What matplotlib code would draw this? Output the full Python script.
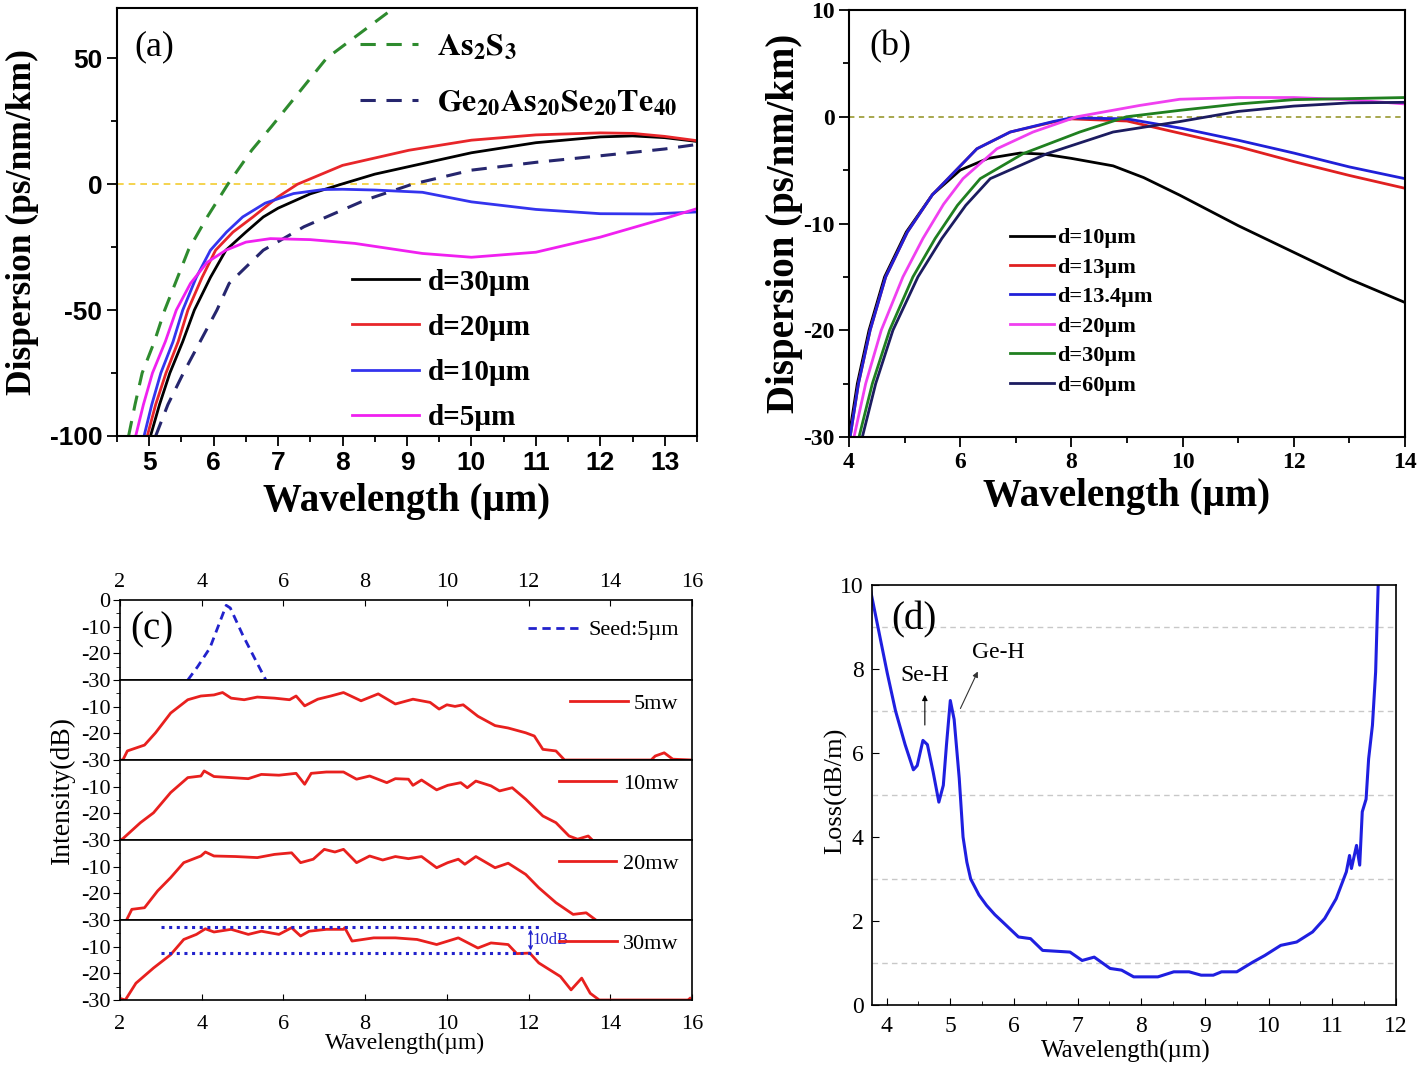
import numpy as np
import matplotlib
matplotlib.use("Agg")
import matplotlib.pyplot as plt
from matplotlib.ticker import MultipleLocator

plt.rcParams['mathtext.fontset'] = 'stix'
plt.rcParams['axes.unicode_minus'] = False
SERIF = ['Liberation Serif', 'DejaVu Serif']
SANS = ['Liberation Sans', 'DejaVu Sans']

# ---------------- Panel (a) data ----------------
a_as2s3_x = [4.68, 4.78, 4.89, 5.08, 5.24, 5.61, 5.90, 6.22, 6.59, 6.90, 7.75, 8.77]
a_as2s3_y = [-100, -87.5, -75, -62.5, -50, -26, -13, 0, 13.5, 23, 50, 69.5]
a_gast_x = [5.10, 5.29, 5.53, 5.79, 6.05, 6.24, 6.77, 7.40, 8.35, 9.08, 10.0, 11.0, 12.0, 13.0, 13.5]
a_gast_y = [-100, -87.5, -75, -62.5, -50, -39.4, -26.2, -16.9, -6.3, 0, 5.6, 8.7, 11.3, 14.0, 15.8]
a_d30_x = [5.02, 5.16, 5.32, 5.52, 5.70, 5.95, 6.19, 6.50, 6.77, 7.0, 7.5, 7.98, 8.5, 9.24, 10.0,
           11.0, 12.0, 12.5, 13.0, 13.5]
a_d30_y = [-100, -87.5, -75, -62.5, -50, -37, -26.2, -19, -13, -9.5, -3.8, 0, 4, 8.2, 12.5,
           16.5, 18.8, 19.2, 18.5, 17]
a_d20_x = [4.97, 5.10, 5.26, 5.45, 5.60, 5.82, 6.03, 6.30, 6.61, 7.0, 7.30, 8.0, 9.03, 10.0,
           11.0, 12.0, 12.5, 13.0, 13.5]
a_d20_y = [-100, -87.5, -75, -62.5, -50, -37, -26.2, -19, -13, -5, 0, 7.5, 13.5, 17.5,
           19.6, 20.4, 20.2, 19.0, 17.3]
a_d10_x = [4.92, 5.04, 5.18, 5.37, 5.52, 5.73, 5.95, 6.20, 6.45, 6.80, 7.24, 7.70, 8.0, 8.5,
           9.24, 10.0, 11.0, 12.0, 12.8, 13.5]
a_d10_y = [-100, -87.5, -75, -62.5, -50, -37, -26.2, -19, -13, -7.5, -3.7, -2.1, -2.0, -2.3,
           -3.2, -7, -10, -11.7, -11.8, -11]
a_d5_x = [4.79, 4.91, 5.05, 5.25, 5.42, 5.64, 5.90, 6.19, 6.50, 6.88, 7.5, 8.19, 9.24, 10.0,
          11.0, 12.0, 13.0, 13.5]
a_d5_y = [-100, -87.5, -75, -62.5, -50, -39.4, -31, -26.2, -23, -21.6, -22, -23.5, -27.5, -29,
          -27, -21, -13.6, -9.7]

# ---------------- Panel (b) data ----------------
b_d10_x = [4.0, 4.15, 4.36, 4.64, 5.03, 5.5, 6.0, 6.5, 7.08, 7.5, 8.0, 8.75, 9.3, 9.95, 11, 12, 13, 14]
b_d10_y = [-30, -25, -20, -15, -10.8, -7.3, -5.0, -3.9, -3.4, -3.5, -3.9, -4.6, -5.7, -7.35,
           -10.2, -12.7, -15.2, -17.4]
b_d13_x = [4.02, 4.17, 4.38, 4.66, 5.05, 5.5, 5.78, 6.3, 6.9, 7.67, 8.0, 9.0, 10, 11, 12, 13, 14]
b_d13_y = [-30, -25, -20, -15, -10.8, -7.3, -5.8, -3.0, -1.43, -0.5, -0.2, -0.4, -1.6, -2.8,
           -4.2, -5.5, -6.7]
b_d134_x = [4.02, 4.17, 4.38, 4.66, 5.05, 5.5, 5.78, 6.3, 6.9, 7.67, 8.0, 9.0, 10, 11, 12, 13, 14]
b_d134_y = [-30, -25, -20, -15, -10.8, -7.3, -5.8, -3.0, -1.43, -0.45, -0.1, -0.2, -1.1, -2.2,
            -3.4, -4.7, -5.8]
b_d20_x = [4.09, 4.3, 4.58, 4.97, 5.33, 5.7, 6.05, 6.66, 7.31, 8.1, 9.23, 9.95, 11, 12, 13, 14]
b_d20_y = [-30, -25, -20, -15, -11.4, -8.2, -5.8, -3.0, -1.43, 0, 1.06, 1.64, 1.8, 1.8, 1.6, 1.2]
b_d30_x = [4.18, 4.42, 4.73, 5.15, 5.55, 5.95, 6.36, 7.13, 8.15, 8.99, 9.95, 11, 12, 13, 14]
b_d30_y = [-30, -25, -20, -15, -11.4, -8.3, -5.8, -3.46, -1.43, 0, 0.6, 1.2, 1.6, 1.7, 1.8]
b_d60_x = [4.24, 4.48, 4.79, 5.24, 5.67, 6.1, 6.54, 7.56, 8.75, 9.95, 11, 12, 13, 14]
b_d60_y = [-30, -25, -20, -15, -11.4, -8.3, -5.8, -3.46, -1.43, -0.45, 0.5, 1.0, 1.3, 1.35]

# ---------------- Panel (c) data ----------------
c_seed_x = [3.66, 3.9, 4.2, 4.4, 4.6, 4.7, 5.0, 5.3, 5.57]
c_seed_y = [-30, -25, -18, -10, -2, -3, -13, -22, -30]
c_5mw_x = [2.0, 2.07, 2.18, 2.6, 2.87, 3.24, 3.66, 3.98, 4.3, 4.51, 4.72, 5.04, 5.36, 5.78, 6.15,
           6.31, 6.52, 6.84, 7.16, 7.47, 7.9, 8.32, 8.74, 9.17, 9.59, 9.81, 10.0, 10.2, 10.4, 10.76,
           11.18, 11.5, 11.93, 12.14, 12.35, 12.67, 12.88, 15.0, 15.1, 15.32, 15.53, 16.0]
c_5mw_y = [-30, -30, -26.6, -24.4, -19.8, -12.4, -7.4, -6, -5.6, -4.7, -6.8, -7.4, -6.4, -6.8, -7.4,
           -6, -9.7, -7.2, -6, -4.7, -7.8, -5.2, -9, -7.2, -8.4, -10.9, -9.3, -9.9, -9.3, -13.6,
           -17.1, -18, -19.8, -21, -26, -26.6, -30, -30, -28.5, -27.3, -29.7, -30]
c_10mw_x = [2.0, 2.07, 2.5, 2.82, 3.24, 3.66, 3.98, 4.06, 4.3, 4.72, 5.14, 5.46, 5.89, 6.31, 6.52,
            6.68, 7.05, 7.47, 7.79, 8.11, 8.53, 8.74, 9.06, 9.17, 9.38, 9.75, 10.02, 10.34, 10.5,
            10.71, 11.08, 11.29, 11.6, 11.93, 12.35, 12.67, 12.99, 13.2, 13.46, 13.56]
c_10mw_y = [-30, -29.5, -23.5, -19.8, -12.2, -6.6, -6, -4.1, -6.2, -6.6, -7, -5.4, -5.7, -5, -9.1,
            -5, -4.5, -4.5, -7.2, -6, -8.5, -7, -7.2, -9.5, -7.5, -11.2, -9.5, -8.5, -10.4,
            -7.9, -9.7, -11.6, -10.4, -14.7, -21, -23.5, -28.5, -29.7, -28.5, -30]
c_20mw_x = [2.16, 2.29, 2.6, 2.92, 3.24, 3.56, 3.98, 4.09, 4.3, 4.83, 5.36, 5.78, 6.2, 6.42, 6.73,
            7.0, 7.26, 7.47, 7.79, 8.11, 8.43, 8.74, 9.06, 9.38, 9.75, 10.02, 10.28, 10.44, 10.71,
            11.18, 11.5, 11.93, 12.25, 12.67, 13.09, 13.41, 13.62]
c_20mw_y = [-30, -26, -25.4, -19.1, -14.1, -8.5, -6, -4.5, -6, -6.2, -6.6, -5.4, -4.8, -8.5, -7.2,
            -3.5, -4.5, -3.5, -8.5, -6, -7.5, -6.2, -7, -6.2, -10.4, -8.5, -7.2, -9.1, -6.2,
            -10.4, -8.7, -12.9, -17.9, -23.5, -27.9, -27.3, -29.7]
c_30mw_x = [2.0, 2.13, 2.39, 2.82, 3.24, 3.56, 3.87, 4.09, 4.3, 4.72, 5.14, 5.46, 5.89, 6.2, 6.42,
            6.63, 7.05, 7.47, 7.5, 7.68, 8.21, 8.74, 9.27, 9.75, 10.28, 10.76, 11.08, 11.5, 11.71,
            12.03, 12.25, 12.78, 13.04, 13.3, 13.51, 13.73, 15.9, 15.95]
c_30mw_y = [-29.4, -30, -23.7, -18, -13, -7.3, -5.4, -3.3, -4.5, -3.5, -5.4, -4.2, -5.4, -2.9, -6,
            -4.2, -3.5, -3.5, -2.9, -7.9, -6.7, -6.7, -7.3, -9.2, -6.7, -10.5, -8.6, -9.2, -12.6,
            -12.4, -16.1, -21.2, -26.2, -21.8, -27.5, -30, -30, -29.4]
c_flat_levels = [-2.5, -12.5]
c_flat_range = [3.0, 12.3]

# ---------------- Panel (d) data ----------------
d_x = [3.73, 4.01, 4.14, 4.29, 4.42, 4.48, 4.57, 4.64, 4.73, 4.82, 4.89, 4.94, 5.0, 5.06, 5.14,
       5.2, 5.26, 5.32, 5.45, 5.57, 5.7, 5.82, 6.07, 6.26, 6.45, 6.88, 7.07, 7.26, 7.51, 7.69,
       7.88, 8.26, 8.51, 8.75, 8.94, 9.13, 9.26, 9.5, 9.75, 9.94, 10.19, 10.44, 10.69, 10.88,
       11.06, 11.22, 11.27, 11.3, 11.38, 11.43, 11.47, 11.53, 11.57, 11.63, 11.68, 11.72]
d_y = [10, 7.9, 7.0, 6.2, 5.6, 5.7, 6.3, 6.2, 5.55, 4.83, 5.23, 6.2, 7.25, 6.8, 5.4,
       4.0, 3.4, 3.0, 2.62, 2.37, 2.15, 1.98, 1.62, 1.58, 1.3, 1.26, 1.06, 1.14, 0.87, 0.83,
       0.67, 0.67, 0.79, 0.79, 0.71, 0.71, 0.79, 0.79, 1.02, 1.18, 1.42, 1.5, 1.74, 2.06,
       2.53, 3.17, 3.56, 3.25, 3.8, 3.33, 4.6, 4.9, 5.86, 6.66, 7.93, 10.0]

W, H = 1418, 1067
fig = plt.figure(figsize=(W / 100, H / 100), dpi=100)


def rect(l, t, r, b):
    return [l / W, 1 - b / H, (r - l) / W, (b - t) / H]


# ================= (a) =================
ax = fig.add_axes(rect(117, 8, 697, 436))
ax.axhline(0, color='#f2cc30', ls='--', lw=1.2, dashes=(4, 3))
la1, = ax.plot(a_as2s3_x, a_as2s3_y, color='#2e8b2e', ls='--', lw=2.2, dashes=(5, 3.5))
la2, = ax.plot(a_gast_x, a_gast_y, color='#26266e', ls='--', lw=2.2, dashes=(5, 3.5))
l1, = ax.plot(a_d30_x, a_d30_y, color='black', lw=2)
l2, = ax.plot(a_d20_x, a_d20_y, color='#e8262a', lw=2)
l3, = ax.plot(a_d10_x, a_d10_y, color='#3434ee', lw=2)
l4, = ax.plot(a_d5_x, a_d5_y, color='#f020f0', lw=2)
ax.set_xlim(4.5, 13.5)
ax.set_ylim(-100, 70)
ax.xaxis.set_major_locator(MultipleLocator(1))
ax.xaxis.set_minor_locator(MultipleLocator(0.5))
ax.yaxis.set_major_locator(MultipleLocator(50))
ax.yaxis.set_minor_locator(MultipleLocator(25))
ax.tick_params(which='both', direction='out', width=1.3)
ax.tick_params(which='major', length=7)
ax.tick_params(which='minor', length=4)
for lab in ax.get_xticklabels() + ax.get_yticklabels():
    lab.set_fontfamily(SANS)
    lab.set_fontweight('bold')
    lab.set_fontsize(19)
for s in ax.spines.values():
    s.set_linewidth(1.5)
ax.set_xlabel('Wavelength (µm)', fontfamily=SERIF, fontweight='bold', fontsize=28)
ax.set_ylabel('Dispersion (ps/nm/km)', fontfamily=SERIF, fontweight='bold', fontsize=25.5)
ax.yaxis.set_label_coords(-0.135, 0.5)
ax.xaxis.set_label_coords(0.5, -0.11)
ax.text(0.065, 0.91, '(a)', transform=ax.transAxes, fontfamily=SERIF, fontsize=26,
        ha='center', va='center')
leg1 = ax.legend([la1, la2], [r'$\mathbf{As_2S_3}$', r'$\mathbf{Ge_{20}As_{20}Se_{20}Te_{40}}$'],
                 loc='upper left', bbox_to_anchor=(0.419, 0.946), frameon=False,
                 borderpad=0, borderaxespad=0,
                 handlelength=1.8, fontsize=23, labelspacing=0.8, handletextpad=0.6)
ax.add_artist(leg1)
ax.legend([l1, l2, l3, l4], ['d=30µm', 'd=20µm', 'd=10µm', 'd=5µm'],
          loc='lower left', bbox_to_anchor=(0.405, 0.012), frameon=False,
          borderpad=0, borderaxespad=0,
          handlelength=2.3, prop={'family': SERIF, 'weight': 'bold', 'size': 21},
          labelspacing=0.62, handletextpad=0.3)

# ================= (b) =================
ax = fig.add_axes(rect(849, 10, 1405, 437))
ax.axhline(0, color='#a0a040', ls='--', lw=1.3, dashes=(3, 2.5))
lb = []
for xv, yv, c in zip([b_d10_x, b_d13_x, b_d134_x, b_d20_x, b_d30_x, b_d60_x],
                     [b_d10_y, b_d13_y, b_d134_y, b_d20_y, b_d30_y, b_d60_y],
                     ['black', '#e02020', '#2020d8', '#f040f0', '#208020', '#1c1c60']):
    l, = ax.plot(xv, yv, color=c, lw=2)
    lb.append(l)
ax.set_xlim(4, 14)
ax.set_ylim(-30, 10)
ax.xaxis.set_major_locator(MultipleLocator(2))
ax.xaxis.set_minor_locator(MultipleLocator(1))
ax.yaxis.set_major_locator(MultipleLocator(10))
ax.yaxis.set_minor_locator(MultipleLocator(5))
ax.tick_params(which='both', direction='out', width=1.3)
ax.tick_params(which='major', length=7)
ax.tick_params(which='minor', length=4)
for lab in ax.get_xticklabels() + ax.get_yticklabels():
    lab.set_fontfamily(SERIF)
    lab.set_fontweight('bold')
    lab.set_fontsize(17)
for s in ax.spines.values():
    s.set_linewidth(1.5)
ax.set_xlabel('Wavelength (µm)', fontfamily=SERIF, fontweight='bold', fontsize=28)
ax.set_ylabel('Dispersion (ps/nm/km)', fontfamily=SERIF, fontweight='bold', fontsize=28)
ax.yaxis.set_label_coords(-0.083, 0.5)
ax.xaxis.set_label_coords(0.5, -0.095)
ax.text(0.075, 0.913, '(b)', transform=ax.transAxes, fontfamily=SERIF, fontsize=26,
        ha='center', va='center')
ax.legend(lb, ['d=10µm', 'd=13µm', 'd=13.4µm', 'd=20µm', 'd=30µm', 'd=60µm'],
          loc='upper left', bbox_to_anchor=(0.289, 0.49), frameon=False,
          borderpad=0, borderaxespad=0,
          handlelength=2.0, prop={'family': SERIF, 'weight': 'bold', 'size': 16},
          labelspacing=0.4, handletextpad=0.15)

# ================= (c) =================
tops = [600, 680, 760, 840, 920]
series = [(c_seed_x, c_seed_y, 'Seed:5µm'), (c_5mw_x, c_5mw_y, '5mw'),
          (c_10mw_x, c_10mw_y, '10mw'), (c_20mw_x, c_20mw_y, '20mw'),
          (c_30mw_x, c_30mw_y, '30mw')]
caxes = []
for i, (xs, ys, name) in enumerate(series):
    ax = fig.add_axes(rect(120, tops[i], 692, tops[i] + 80))
    caxes.append(ax)
    if i == 0:
        l, = ax.plot(xs, ys, color='#2222cc', ls='--', lw=2, dashes=(3, 2))
    else:
        l, = ax.plot(xs, ys, color='#e8201e', lw=2)
    ax.set_xlim(2, 16)
    ax.set_ylim(-30, 0)
    ax.xaxis.set_major_locator(MultipleLocator(2))
    if i == 0:
        ax.set_yticks([0, -10, -20, -30])
    else:
        ax.set_yticks([-10, -20, -30])
    ax.yaxis.set_minor_locator(MultipleLocator(5))
    ax.tick_params(which='both', labelsize=16)
    ax.tick_params(axis='y', which='both', direction='out', pad=2)
    ax.tick_params(axis='y', which='major', length=5)
    ax.tick_params(axis='y', which='minor', length=3)
    ax.tick_params(axis='x', direction='in', length=4, top=(i == 0), labeltop=(i == 0),
                   bottom=(i == 4), labelbottom=(i == 4))
    if i == 0:
        ax.tick_params(axis='x', pad=6)
    if i == 4:
        ax.tick_params(axis='x', pad=11)
    for lab in ax.get_xticklabels() + ax.get_yticklabels():
        lab.set_fontfamily(SERIF)
    for s in ax.spines.values():
        s.set_linewidth(1.2)
    ax.legend([l], [name], loc='upper right', frameon=False,
              bbox_to_anchor=(1.0, 1.0 if i else 0.92),
              handlelength=2.6 if i else 2.4, handletextpad=0.3,
              prop={'family': SERIF, 'size': 16}, borderaxespad=0.2)
    if i == 4:
        for lvl in c_flat_levels:
            ax.plot(c_flat_range, [lvl, lvl], color='#2222cc', ls=':', lw=2.2,
                    dashes=(1, 1.5))
        ax.annotate('', xy=(12.05, c_flat_levels[0]), xytext=(12.05, c_flat_levels[1]),
                    arrowprops=dict(arrowstyle='<->', color='#2222cc', lw=1,
                                    mutation_scale=6))
        ax.text(12.1, -7.5, '10dB', color='#2222cc', fontfamily=SERIF, fontsize=12,
                va='center', ha='left')
caxes[0].text(0.055, 0.62, '(c)', transform=caxes[0].transAxes, fontfamily=SERIF,
              fontsize=28, ha='center', va='center')
fig.text(62 / W, 1 - 790 / H, 'Intensity(dB)', rotation=90, fontfamily=SERIF,
         fontsize=20, ha='center', va='center')
fig.text(405 / W, 1 - 1043 / H, 'Wavelength(µm)', fontfamily=SERIF, fontsize=17,
         ha='center', va='center')

# ================= (d) =================
ax = fig.add_axes(rect(872, 585, 1396, 1005))
for g in [1, 3, 5, 7, 9]:
    ax.axhline(g, color='#c8c8c8', ls='--', lw=1, dashes=(4, 3))
ax.plot(d_x, d_y, color='#1f1fe0', lw=2.2)
ax.set_xlim(3.77, 12.0)
ax.set_ylim(0, 10)
ax.xaxis.set_major_locator(MultipleLocator(1))
ax.xaxis.set_minor_locator(MultipleLocator(0.5))
ax.yaxis.set_major_locator(MultipleLocator(2))
ax.tick_params(which='both', direction='in', labelsize=17)
ax.tick_params(axis='x', pad=8)
ax.tick_params(axis='y', pad=6)
ax.tick_params(which='major', length=5)
ax.tick_params(which='minor', length=3)
for lab in ax.get_xticklabels() + ax.get_yticklabels():
    lab.set_fontfamily(SERIF)
for s in ax.spines.values():
    s.set_linewidth(1.2)
ax.set_xlabel('Wavelength(µm)', fontfamily=SERIF, fontsize=18)
ax.set_ylabel('Loss(dB/m)', fontfamily=SERIF, fontsize=19)
ax.yaxis.set_label_coords(-0.047, 0.51)
ax.xaxis.set_label_coords(0.485, -0.082)
ax.text(0.08, 0.917, '(d)', transform=ax.transAxes, fontfamily=SERIF, fontsize=28,
        ha='center', va='center')
ax.annotate('', xy=(4.6, 7.45), xytext=(4.6, 6.6),
            arrowprops=dict(arrowstyle='-|>', color='black', lw=0.8, mutation_scale=8))
ax.text(4.6, 7.6, 'Se-H', fontfamily=SERIF, fontsize=17, ha='center', va='bottom')
ax.annotate('', xy=(5.45, 8.0), xytext=(5.14, 7.0),
            arrowprops=dict(arrowstyle='-|>', color='#333333', lw=0.8, mutation_scale=8))
ax.text(5.75, 8.4, 'Ge-H', fontfamily=SERIF, fontsize=17, ha='center', va='center')

fig.savefig('out.png', dpi=100)
